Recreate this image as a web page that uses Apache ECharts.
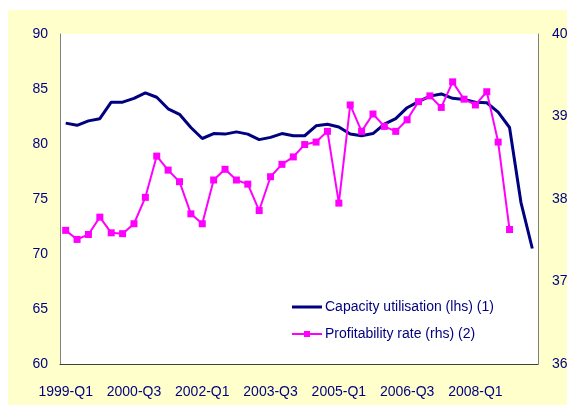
<!DOCTYPE html>
<html>
<head>
<meta charset="utf-8">
<script src="https://cdn.jsdelivr.net/npm/echarts@6/dist/echarts.min.js"></script>
<style>
  html, body { margin: 0; padding: 0; background: #ffffff; }
  #main { width: 567px; height: 405px; }
</style>
</head>
<body>
<div id="main"></div>
<script>
// quarters, 1999-Q1 .. 2009-Q2
var quarters = [
  '1999-Q1', '1999-Q2', '1999-Q3', '1999-Q4',
  '2000-Q1', '2000-Q2', '2000-Q3', '2000-Q4',
  '2001-Q1', '2001-Q2', '2001-Q3', '2001-Q4',
  '2002-Q1', '2002-Q2', '2002-Q3', '2002-Q4',
  '2003-Q1', '2003-Q2', '2003-Q3', '2003-Q4',
  '2004-Q1', '2004-Q2', '2004-Q3', '2004-Q4',
  '2005-Q1', '2005-Q2', '2005-Q3', '2005-Q4',
  '2006-Q1', '2006-Q2', '2006-Q3', '2006-Q4',
  '2007-Q1', '2007-Q2', '2007-Q3', '2007-Q4',
  '2008-Q1', '2008-Q2', '2008-Q3', '2008-Q4',
  '2009-Q1', '2009-Q2'
];

// capacity utilisation (lhs)
var capacity = [
  81.9, 81.7, 82.1, 82.3, 83.8, 83.8, 84.15, 84.65, 84.25, 83.2,
  82.7, 81.5, 80.5, 80.95, 80.9, 81.1, 80.9, 80.4, 80.6, 80.95,
  80.75, 80.75, 81.65, 81.8, 81.55, 80.9, 80.75, 80.95, 81.8, 82.3,
  83.3, 83.85, 84.35, 84.55, 84.15, 84.05, 83.8, 83.75, 82.9, 81.5,
  74.7, 70.5
];

// profitability rate (rhs)
var profitability = [
  37.62, 37.51, 37.57, 37.78, 37.59, 37.58, 37.70, 38.02, 38.52, 38.35,
  38.21, 37.82, 37.70, 38.23, 38.36, 38.23, 38.18, 37.86, 38.27, 38.42,
  38.51, 38.66, 38.69, 38.82, 37.95, 39.14, 38.82, 39.03, 38.88, 38.82,
  38.96, 39.18, 39.25, 39.11, 39.42, 39.21, 39.14, 39.30, 38.69, 37.63,
  null, null
];

var navy = '#000080';
var magenta = '#ff00ff';

var myChart = echarts.init(document.getElementById('main'));
var option = {
  animation: false,
  textStyle: { fontFamily: 'Liberation Sans, Arial, sans-serif' },
  graphic: [
    {
      type: 'rect',
      z: -10,
      silent: true,
      shape: { x: 8, y: 10, width: 567, height: 405 },
      style: { fill: '#ffffcc' }
    }
  ],
  grid: {
    left: 60,
    right: 29,
    top: 34,
    bottom: 41,
    outerBoundsMode: 'none',
    containLabel: false,
    show: true,
    backgroundColor: '#ffffff',
    borderWidth: 0
  },
  legend: {
    orient: 'vertical',
    left: 292,
    top: 300,
    padding: 0,
    itemWidth: 30,
    itemHeight: 14,
    itemGap: 13,
    textStyle: { color: navy, fontSize: 14, padding: [0, 0, 0, -2] },
    data: [
      {
        name: 'Capacity utilisation (lhs) (1)',
        icon: 'path://M0,6 L30,6 L30,9 L0,9 Z'
      },
      {
        name: 'Profitability rate (rhs) (2)',
        icon: 'path://M0,6 L30,6 L30,8 L0,8 Z M12,4 L18,4 L18,10 L12,10 Z'
      }
    ]
  },
  xAxis: {
    type: 'category',
    data: quarters,
    boundaryGap: true,
    axisLine: { lineStyle: { color: '#404040', width: 1 } },
    axisTick: { show: false },
    axisLabel: {
      interval: 5,
      color: navy,
      fontSize: 14,
      margin: 21
    }
  },
  yAxis: [
    {
      type: 'value',
      min: 60,
      max: 90,
      interval: 5,
      axisLine: { show: true, lineStyle: { color: '#808080', width: 1 } },
      axisTick: { show: false },
      splitLine: { show: false },
      axisLabel: { color: navy, fontSize: 14, margin: 12 }
    },
    {
      type: 'value',
      min: 36,
      max: 40,
      interval: 1,
      position: 'right',
      axisLine: { show: true, lineStyle: { color: '#808080', width: 1 } },
      axisTick: { show: false },
      splitLine: { show: false },
      axisLabel: { color: navy, fontSize: 14, margin: 14 }
    }
  ],
  series: [
    {
      name: 'Capacity utilisation (lhs) (1)',
      type: 'line',
      yAxisIndex: 0,
      data: capacity,
      symbol: 'none',
      lineStyle: { color: navy, width: 3 },
      itemStyle: { color: navy }
    },
    {
      name: 'Profitability rate (rhs) (2)',
      type: 'line',
      yAxisIndex: 1,
      data: profitability,
      symbol: 'rect',
      symbolSize: 7,
      showAllSymbol: true,
      lineStyle: { color: magenta, width: 2 },
      itemStyle: { color: magenta }
    }
  ]
};
myChart.setOption(option);
</script>
</body>
</html>
